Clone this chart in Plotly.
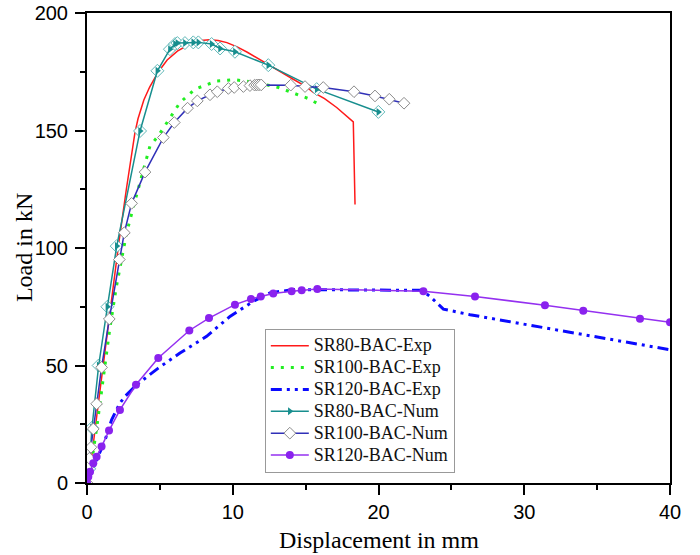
import plotly.graph_objects as go

# SR80-BAC-Exp
sr80_exp_x = [0, 0.3, 0.7, 1.2, 1.7, 2.2, 2.7, 3.29, 3.5, 3.9, 4.3, 4.9, 5.5, 6.2, 7.0, 7.8, 8.4, 9.0, 9.6, 10.3, 11.0, 12.1, 13.1, 14.15, 15.0, 15.53, 16.3, 17.13, 18.27, 18.39]
sr80_exp_y = [0, 10, 30, 55, 80, 103, 125, 149.1, 155, 163, 168.5, 175, 180, 183.8, 186.6, 188.3, 188.6, 188.3, 187.4, 185.6, 183.3, 179.2, 175.5, 171.8, 168.8, 166.2, 163.6, 159.8, 153.7, 118.5]

# SR100-BAC-Exp
sr100_exp_x = [0, 0.3, 0.7, 1.0, 1.55, 2.0, 2.49, 2.72, 3.29, 4.32, 4.89, 5.69, 6.38, 7.41, 8.9, 10.15, 11.64, 13.13, 14.5, 15.18, 15.87]
sr100_exp_y = [0, 8, 25, 40, 65, 83, 98, 106.5, 120, 143.4, 147.7, 155.5, 161.9, 167.6, 171.1, 171.6, 170.4, 168.3, 165.3, 163.6, 161.3]

# SR120-BAC-Exp
sr120_exp_x = [0, 0.55, 1.24, 1.69, 2.26, 2.6, 3.41, 4.89, 6.38, 8.21, 9.81, 11.41, 12.56, 14.15, 15.76, 18.5, 22.96, 23.53, 24.45, 26.28, 29.48, 32.68, 36.11, 40]
sr120_exp_y = [0, 8.4, 18.3, 26.9, 34, 36.8, 41.8, 48.9, 55.3, 62.4, 70.9, 77.3, 80.9, 82.3, 82.3, 82, 82, 79.4, 74, 71.6, 68.1, 64.5, 61, 56.7]

# SR80-BAC-Num
sr80_num_x = [0, 0.15, 0.34, 0.8, 1.4, 2.04, 3.64, 4.83, 5.69, 6.04, 6.2, 6.72, 7.29, 7.64, 8.55, 9.13, 10.15, 12.44, 15.76, 19.99]
sr80_num_y = [0, 6, 23.5, 50, 75, 100.8, 149.8, 175.4, 184.6, 186.8, 187.2, 187.2, 187.5, 187.5, 186.8, 184.9, 183.5, 177.8, 167.6, 157.9]

# SR100-BAC-Num
sr100_num_x = [0, 0.1, 0.16, 0.27, 0.43, 0.66, 1.0, 1.53, 2.22, 2.56, 3.06, 3.98, 5.24, 5.99, 6.9, 7.57, 8.44, 8.94, 9.7, 10.1, 10.73, 11.18, 11.5, 11.65, 11.8, 11.95, 13.98, 14.96, 16.21, 18.32, 19.76, 20.74, 21.75]
sr100_num_y = [0, 7, 10.5, 15.2, 23, 33.7, 49.2, 69.8, 95.1, 106.5, 119, 132.3, 147, 153.4, 159.5, 162.6, 165.2, 166.5, 167.9, 168.3, 168.7, 169.1, 169.3, 169.4, 169.4, 169.4, 169.3, 168.7, 168.3, 166.5, 164.7, 163.3, 161.6]

# SR120-BAC-Num
sr120_num_x = [0, 0.09, 0.21, 0.43, 0.66, 1.0, 1.51, 2.26, 3.36, 4.89, 7.02, 8.37, 10.15, 11.25, 11.92, 12.78, 14.04, 14.73, 15.8, 23.08, 26.62, 31.42, 34.05, 37.94, 40]
sr120_num_y = [0, 2.7, 4.8, 8.4, 11.2, 15.5, 22.3, 31.1, 41.8, 53.2, 64.9, 70.2, 75.9, 78.3, 79.4, 80.6, 81.6, 82, 82.6, 81.6, 79.4, 75.6, 73.3, 69.9, 68.4]

series_names = ["SR80-BAC-Exp", "SR100-BAC-Exp", "SR120-BAC-Exp",
                "SR80-BAC-Num", "SR100-BAC-Num", "SR120-BAC-Num"]
x_title = "Displacement in mm"
y_title = "Load in kN"

serif = "Liberation Serif, Times New Roman, serif"
sans = "Liberation Sans, Arial, sans-serif"
teal = "#178E8E"


def lg(name):
    # larger glyphs than the legend's base font, keeping rows tight
    return "<span style='font-size:18px'>" + name + "</span>"


fig = go.Figure()
fig.add_trace(go.Scatter(x=sr80_exp_x, y=sr80_exp_y, mode="lines", name=lg(series_names[0]),
                         line=dict(color="#FF1A1A", width=1.5)))
fig.add_trace(go.Scatter(x=sr100_exp_x, y=sr100_exp_y, mode="lines", name=lg(series_names[1]),
                         line=dict(color="#22EE22", width=3, dash="3px,7px")))
fig.add_trace(go.Scatter(x=sr120_exp_x, y=sr120_exp_y, mode="lines", name=lg(series_names[2]),
                         line=dict(color="#0A0AFF", width=3, dash="11px,5px,3px,5px,3px,5px")))
# SR80-BAC-Num: half-filled diamond look = white diamond + teal right triangle
fig.add_trace(go.Scatter(x=sr80_num_x[1:], y=sr80_num_y[1:], mode="markers", showlegend=False,
                         legendgroup="sr80num", hoverinfo="skip",
                         marker=dict(symbol="diamond", size=10, color="white",
                                     line=dict(color="#5FB8B8", width=1))))
fig.add_trace(go.Scatter(x=sr80_num_x, y=sr80_num_y, mode="lines+markers", name=lg(series_names[3]),
                         legendgroup="sr80num",
                         line=dict(color=teal, width=1.5),
                         marker=dict(symbol="triangle-right", size=7, color=teal,
                                     line=dict(width=0))))
fig.add_trace(go.Scatter(x=sr100_num_x, y=sr100_num_y, mode="lines+markers", name=lg(series_names[4]),
                         line=dict(color="#3030B8", width=1.5),
                         marker=dict(symbol="diamond", size=9, color="white",
                                     line=dict(color="#8A8A8A", width=1))))
fig.add_trace(go.Scatter(x=sr120_num_x, y=sr120_num_y, mode="lines+markers", name=lg(series_names[5]),
                         line=dict(color="#9430F0", width=1.5),
                         marker=dict(symbol="circle", size=8, color="#8A22EE")))

fig.update_layout(
    width=700, height=555,
    margin=dict(l=87, r=30, t=13, b=72),
    paper_bgcolor="white", plot_bgcolor="white",
    showlegend=True,
    legend=dict(x=0.305, y=0.328, xanchor="left", yanchor="top",
                bordercolor="#999999", borderwidth=1, bgcolor="white",
                font=dict(family=serif, size=14.5, color="#111111"),
                tracegroupgap=0, itemwidth=38),
    annotations=[
        dict(text=y_title, xref="paper", yref="paper", x=-0.108, y=0.5,
             xanchor="center", yanchor="middle", textangle=-90, showarrow=False,
             font=dict(family=serif, size=24, color="black")),
        dict(text=x_title, xref="paper", yref="paper", x=0.5, y=-0.121,
             xanchor="center", yanchor="middle", showarrow=False,
             font=dict(family=serif, size=24, color="black")),
    ],
)
fig.update_xaxes(range=[0, 40], showgrid=False, zeroline=False, automargin=False,
                 showline=True, linecolor="black", linewidth=2, mirror=True,
                 ticks="outside", ticklen=10, tickwidth=1.5, tickcolor="black",
                 dtick=10, tickfont=dict(family=sans, size=20, color="black"),
                 minor=dict(ticks="outside", ticklen=5, tickwidth=1.5, tickcolor="black", dtick=5))
fig.update_yaxes(range=[0, 200], showgrid=False, zeroline=False, automargin=False,
                 showline=True, linecolor="black", linewidth=2, mirror=True,
                 ticks="outside", ticklen=10, tickwidth=1.5, tickcolor="black",
                 ticklabelstandoff=3,
                 dtick=50, tickfont=dict(family=sans, size=20, color="black"),
                 minor=dict(ticks="outside", ticklen=5, tickwidth=1.5, tickcolor="black", dtick=25))

fig.write_html("out.html")
